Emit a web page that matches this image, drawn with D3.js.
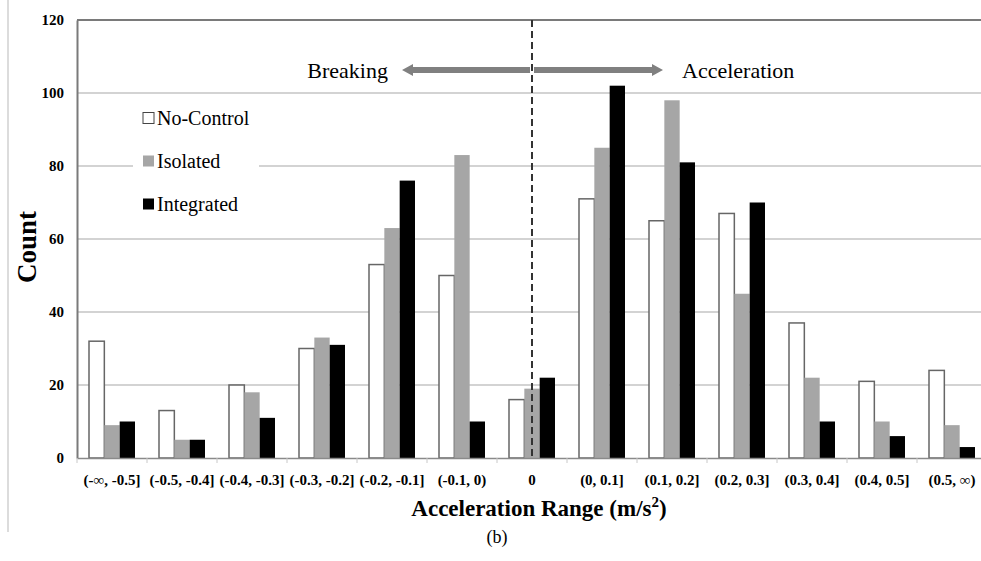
<!DOCTYPE html>
<html lang="en">
<head>
    <meta charset="utf-8"/>
    <title>Acceleration Range Histogram</title>
    <script src="https://d3js.org/d3.v7.min.js"></script>
    <style>
        html, body { margin: 0; padding: 0; background: #fff; }
        svg text { font-family: "Liberation Serif", "DejaVu Serif", serif; }
    </style>
</head>
<body>
    <div id="chart"></div>

    <script>
        // Data
        const categories = ["(-\u221E, -0.5]", "(-0.5, -0.4]", "(-0.4, -0.3]", "(-0.3, -0.2]", "(-0.2, -0.1]",
            "(-0.1, 0)", "0", "(0, 0.1]", "(0.1, 0.2]", "(0.2, 0.3]", "(0.3, 0.4]", "(0.4, 0.5]", "(0.5, \u221E)"];
        const seriesNames = ["No-Control", "Isolated", "Integrated"];
        const noControl  = [32, 13, 20, 30, 53, 50, 16, 71, 65, 67, 37, 21, 24];
        const isolated   = [9, 5, 18, 33, 63, 83, 19, 85, 98, 45, 22, 10, 9];
        const integrated = [10, 5, 11, 31, 76, 10, 22, 102, 81, 70, 10, 6, 3];
        const yTicks = [0, 20, 40, 60, 80, 100, 120];

        const serif = '"Liberation Serif", "Times New Roman", serif';
        const width = 981, height = 561;
        const margin = {top: 20, left: 77};
        const innerWidth = 910, innerHeight = 438;

        const svg = d3.select('#chart').append('svg')
            .attr('width', width)
            .attr('height', height)
            .attr('font-family', serif);

        // thin frame line on the far left
        svg.append('line')
            .attr('x1', 8).attr('x2', 8).attr('y1', 0).attr('y2', 532)
            .attr('stroke', '#d0d0d0').attr('stroke-width', 1.5);

        const g = svg.append('g').attr('transform', `translate(${margin.left},${margin.top})`);

        const x = d3.scaleBand().domain(categories).range([0, innerWidth]).padding(0);
        const xs = d3.scaleBand().domain(seriesNames).range([12, x.bandwidth() - 12]).padding(0);
        const y = d3.scaleLinear().domain([0, 120]).range([innerHeight, 0]);

        const fills = {"No-Control": "#ffffff", "Isolated": "#a6a6a6", "Integrated": "#000000"};

        // gridlines
        g.selectAll('.grid').data(yTicks.filter(d => d > 0)).enter().append('line')
            .attr('x1', 0).attr('x2', innerWidth + 20)
            .attr('y1', d => y(d)).attr('y2', d => y(d))
            .attr('stroke', d => d === 120 ? '#7a7a7a' : '#a8a8a8')
            .attr('stroke-width', d => d === 120 ? 2 : 1.2);

        // y axis
        const yAxis = g.append('g')
            .call(d3.axisLeft(y).tickValues(yTicks).tickSize(0).tickPadding(13))
            .attr('font-family', serif);
        yAxis.select('.domain').attr('stroke', '#7a7a7a').attr('stroke-width', 2);
        yAxis.selectAll('text')
            .attr('fill', '#000')
            .attr('font-family', serif)
            .attr('font-size', 15)
            .attr('font-weight', 'bold');

        // bars
        const rows = categories.map((c, i) => ({
            category: c,
            values: [
                {series: "No-Control", value: noControl[i]},
                {series: "Isolated", value: isolated[i]},
                {series: "Integrated", value: integrated[i]}
            ]
        }));

        const groups = g.selectAll('.group').data(rows).enter().append('g')
            .attr('transform', d => `translate(${x(d.category)},0)`);

        groups.selectAll('rect').data(d => d.values).enter().append('rect')
            .attr('x', d => xs(d.series))
            .attr('y', d => y(d.value))
            .attr('width', xs.bandwidth())
            .attr('height', d => innerHeight - y(d.value))
            .attr('fill', d => fills[d.series])
            .attr('stroke', d => d.series === "No-Control" ? '#666' : 'none')
            .attr('stroke-width', 1.5);

        // x axis
        const xAxis = g.append('g')
            .attr('transform', `translate(0,${innerHeight})`)
            .call(d3.axisBottom(x).tickSize(0).tickPadding(16))
            .attr('font-family', serif);
        xAxis.select('.domain').attr('stroke', '#8a8a8a').attr('stroke-width', 1.5);
        xAxis.selectAll('text')
            .attr('fill', '#000')
            .attr('font-family', serif)
            .attr('font-size', 15)
            .attr('font-weight', 'bold');

        // boundary tick marks
        g.selectAll('.btick').data(categories).enter().append('line')
            .attr('x1', d => x(d)).attr('x2', d => x(d))
            .attr('y1', innerHeight).attr('y2', innerHeight + 5)
            .attr('stroke', '#c8c8c8');

        // dashed separator at 0
        const zeroX = x("0") + x.bandwidth() / 2;
        g.append('line')
            .attr('x1', zeroX).attr('x2', zeroX)
            .attr('y1', 0).attr('y2', innerHeight)
            .attr('stroke', '#333').attr('stroke-width', 2)
            .attr('stroke-dasharray', '7,4');

        // arrows
        const arrowY = 50;
        function arrow(x0, x1) {
            const dir = x1 > x0 ? 1 : -1;
            const head = 11, shaft = 3, hw = 6;
            const xh = x1 - dir * head;
            const pts = [[x0, arrowY - shaft], [xh, arrowY - shaft], [xh, arrowY - hw], [x1, arrowY],
                [xh, arrowY + hw], [xh, arrowY + shaft], [x0, arrowY + shaft]];
            g.append('polygon').attr('points', pts.map(p => p.join(',')).join(' ')).attr('fill', '#808080');
        }
        arrow(zeroX - 2, 402 - margin.left);
        arrow(zeroX + 2, 663 - margin.left);

        g.append('text').attr('x', 388 - margin.left).attr('y', arrowY + 8)
            .attr('text-anchor', 'end').attr('font-family', serif).attr('font-size', 22).text('Breaking');
        g.append('text').attr('x', 682 - margin.left).attr('y', arrowY + 8)
            .attr('font-family', serif).attr('font-size', 22).text('Acceleration');

        // legend
        const legend = svg.append('g');
        legend.append('rect').attr('x', 133).attr('y', 100).attr('width', 126).attr('height', 120).attr('fill', '#fff');
        seriesNames.forEach((s, i) => {
            const cy = 118 + i * 43;
            legend.append('rect')
                .attr('x', 143).attr('y', cy - 5.5).attr('width', 11).attr('height', 11)
                .attr('fill', fills[s])
                .attr('stroke', s === "No-Control" ? '#444' : 'none');
            legend.append('text').attr('x', 157).attr('y', cy + 7)
                .attr('font-family', serif).attr('font-size', 20).text(s);
        });

        // axis titles
        svg.append('text')
            .attr('transform', 'translate(36,247) rotate(-90)')
            .attr('text-anchor', 'middle')
            .attr('font-family', serif).attr('font-size', 27).attr('font-weight', 'bold')
            .text('Count');

        const xt = svg.append('text')
            .attr('x', 539).attr('y', 516)
            .attr('text-anchor', 'middle')
            .attr('font-family', serif).attr('font-size', 23).attr('font-weight', 'bold');
        xt.append('tspan').text('Acceleration Range (m/s');
        xt.append('tspan').attr('dy', -9).attr('font-size', 15).text('2');
        xt.append('tspan').attr('dy', 9).text(')');

        svg.append('text')
            .attr('x', 497).attr('y', 543)
            .attr('text-anchor', 'middle')
            .attr('font-family', serif).attr('font-size', 18)
            .text('(b)');
    </script>
</body>
</html>
